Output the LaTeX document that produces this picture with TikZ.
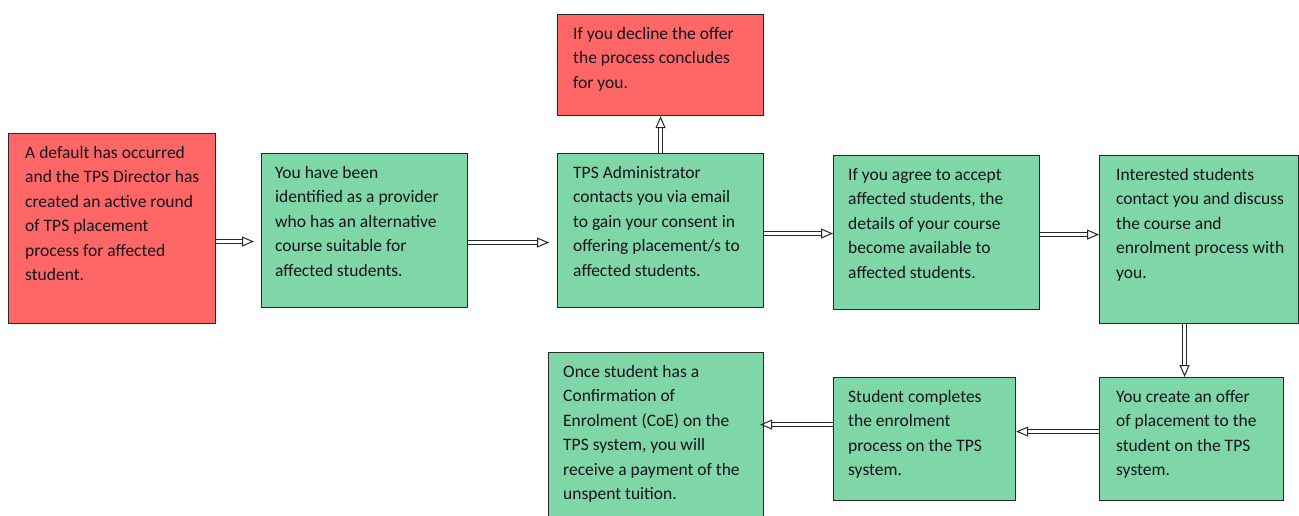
\documentclass[tikz,border=0pt]{standalone}
\usepackage{fontspec}
\setmainfont{Carlito}
\usetikzlibrary{arrows.meta}
\definecolor{boxred}{RGB}{255,102,102}
\definecolor{boxgreen}{RGB}{127,214,166}
\definecolor{edge}{RGB}{40,40,40}
\definecolor{ink}{RGB}{20,20,30}
\tikzset{
  box/.style={draw=edge, line width=1.1pt, anchor=north west, inner sep=0pt},
  redbox/.style={box, fill=boxred},
  greenbox/.style={box, fill=boxgreen},
  txt/.style={anchor=north west, inner sep=0pt, align=left, text=ink,
    font=\fontsize{17.5}{24.5}\selectfont},
  conn/.style={draw=edge, line width=0.9pt, double=white, double distance=2.6pt,
    -{Triangle[open, length=12pt, width=10pt, line width=1pt]}}
}
\begin{document}
\begin{tikzpicture}[x=1pt, y=-1pt]
\useasboundingbox (0,0) rectangle (1299,516);
% process boxes
\node[redbox, minimum width=207pt, minimum height=190pt] (n1) at (8,133) {};
\node[greenbox, minimum width=206pt, minimum height=154pt] (n2) at (261,153) {};
\node[greenbox, minimum width=206pt, minimum height=154pt] (n3) at (557,153) {};
\node[redbox, minimum width=206pt, minimum height=101pt] (n4) at (557,14) {};
\node[greenbox, minimum width=206pt, minimum height=154pt] (n5) at (833,155) {};
\node[greenbox, minimum width=199pt, minimum height=168pt] (n6) at (1099,155) {};
\node[greenbox, minimum width=184pt, minimum height=123pt] (n7) at (1099,377) {};
\node[greenbox, minimum width=182pt, minimum height=123pt] (n8) at (833,377) {};
\node[greenbox, minimum width=215pt, minimum height=170pt] (n9) at (548,352) {};
% box texts
\node[txt] (t1) at ([xshift=17pt, yshift=-7.85pt]n1.north west) {\strut A default has occurred\\and the TPS Director has\\created an active round\\of TPS placement\\process for affected\\student.};
\node[txt] (t2) at ([xshift=14pt, yshift=-7.85pt]n2.north west) {\strut You have been\\identified as a provider\\who has an alternative\\course suitable for\\affected students.};
\node[txt] (t3) at ([xshift=16pt, yshift=-7.85pt]n3.north west) {\strut TPS Administrator\\contacts you via email\\to gain your consent in\\offering placement/s to\\affected students.};
\node[txt] (t4) at ([xshift=16pt, yshift=-7.85pt]n4.north west) {\strut If you decline the offer\\the process concludes\\for you.};
\node[txt] (t5) at ([xshift=15pt, yshift=-7.85pt]n5.north west) {\strut If you agree to accept\\affected students, the\\details of your course\\become available to\\affected students.};
\node[txt] (t6) at ([xshift=17pt, yshift=-7.85pt]n6.north west) {\strut Interested students\\contact you and discuss\\the course and\\enrolment process with\\you.};
\node[txt] (t7) at ([xshift=17pt, yshift=-7.85pt]n7.north west) {\strut You create an offer\\of placement to the\\student on the TPS\\system.};
\node[txt] (t8) at ([xshift=15pt, yshift=-7.85pt]n8.north west) {\strut Student completes\\the enrolment\\process on the TPS\\system.};
\node[txt] (t9) at ([xshift=15pt, yshift=-7.85pt]n9.north west) {\strut Once student has a\\Confirmation of\\Enrolment (CoE) on the\\TPS system, you will\\receive a payment of the\\unspent tuition.};
% connectors
\draw[conn, shorten >=7pt] ([yshift=-13pt]n1.east) -- ([yshift=-13pt]n1.east -| n2.west);
\draw[conn, shorten >=8pt] ([yshift=-12pt]n2.east) -- ([yshift=-12pt]n2.east -| n3.west);
\draw[conn] (n3.north) -- (n4.south);
\draw[conn] ([yshift=-3pt]n3.east) -- ([yshift=-3pt]n3.east -| n5.west);
\draw[conn] ([yshift=-2pt]n5.east) -- ([yshift=-2pt]n5.east -| n6.west);
\draw[conn] ([xshift=-14.5pt]n6.south) -- ([xshift=-14.5pt]n6.south |- n7.north);
\draw[conn] ([yshift=7.5pt]n7.west) -- ([yshift=7.5pt]n7.west -| n8.east);
\draw[conn, shorten >=-4pt] ([yshift=14.5pt]n8.west) -- ([yshift=14.5pt]n8.west -| n9.east);
\end{tikzpicture}
\end{document}
